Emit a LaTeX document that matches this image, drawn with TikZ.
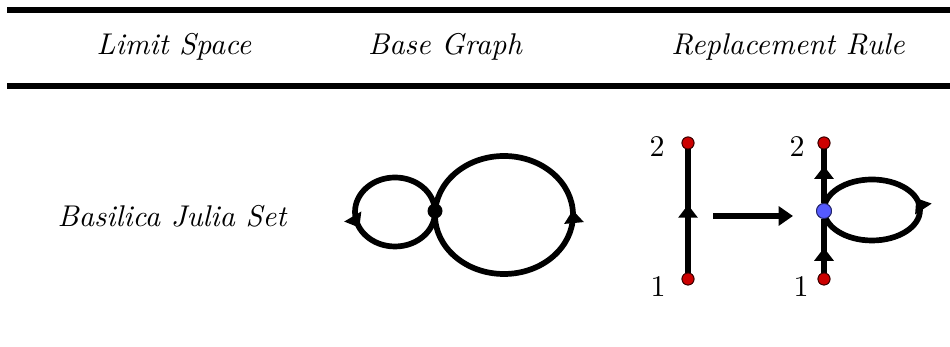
\documentclass[tikz,border=0pt]{standalone}
\usetikzlibrary{arrows.meta,decorations.markings,calc}
\definecolor{dotred}{RGB}{204,0,0}
\definecolor{dotblue}{RGB}{85,90,255}
\begin{document}
\begin{tikzpicture}[x=0.33333pt,y=0.33333pt,
  rulestyle/.style={line width=2pt},
  hdr/.style={anchor=base,font=\itshape,inner sep=0pt},
  lbl/.style={inner sep=0pt},
  edge/.style={line width=1.9pt},
  midarrow/.style={postaction={decorate,decoration={markings,
      mark=at position #1 with {\arrow[line width=0.5pt]{Triangle[length=4.3pt,width=6.5pt]}}}}},
  reddot/.style={circle,fill=dotred,draw=black!70!dotred,line width=0.3pt,inner sep=0pt,minimum size=4pt},
  bluedot/.style={circle,fill=dotblue,draw=black!60!dotblue,line width=0.3pt,inner sep=0pt,minimum size=5pt},
  blackdot/.style={circle,fill=black,inner sep=0pt,minimum size=5pt}
]
\useasboundingbox (0,0) rectangle (950,347);
% rules
\coordinate (r1a) at (7,337);
\coordinate (r1b) at (950,337);
\coordinate (r2a) at (7,261);
\coordinate (r2b) at (950,261);
\draw[rulestyle] (r1a) -- (r1b);
\draw[rulestyle] (r2a) -- (r2b);
% headers
\node[hdr] (h1) at (174,292) {Limit Space};
\node[hdr] (h2) at (445,292) {Base Graph};
\node[hdr] (h3) at (788,292) {Replacement Rule};
% row label
\node[hdr] (row) at (172,120) {Basilica Julia Set};
% base graph
\coordinate (Bc) at (435,136);
\draw[edge,midarrow=0.57] ($(Bc)+(-40,-1)$) ellipse [x radius=13.333pt,y radius=11.5pt];
\draw[edge,midarrow=0.012] ($(Bc)+(69,-4)$) ellipse [x radius=23pt,y radius=19.667pt];
\node[blackdot] (B) at (Bc) {};
% replacement rule: left
\node[reddot] (l1) at (688,68) {};
\node[reddot] (l2) at (688,204) {};
\draw[edge,midarrow=0.55] (l1) -- (l2);
\node[reddot] at (l1) {};
\node[reddot] at (l2) {};
\node[lbl] (t1) at (658,60) {1};
\node[lbl] (t2) at (657,200) {2};
% big arrow
\coordinate (aa) at (713,131);
\coordinate (ab) at (793,131);
\draw[edge,-{Triangle[length=4.8pt,width=6.3pt]}] (aa) -- (ab);
% replacement rule: right
\node[reddot] (q1) at (824,68) {};
\node[reddot] (q2) at (824,204) {};
\node[bluedot] (bl) at (824,136) {};
\draw[edge,midarrow=0.46] (q1) -- (bl);
\draw[edge,midarrow=0.69] (bl) -- (q2);
\draw[edge,midarrow=0.05] ($(bl)+(48,1)$) ellipse [x radius=16pt,y radius=10.167pt];
\node[bluedot] at (bl) {};
\node[reddot] at (q1) {};
\node[reddot] at (q2) {};
\node[lbl] (u1) at (801,60) {1};
\node[lbl] (u2) at (797,200) {2};
\end{tikzpicture}
\end{document}
